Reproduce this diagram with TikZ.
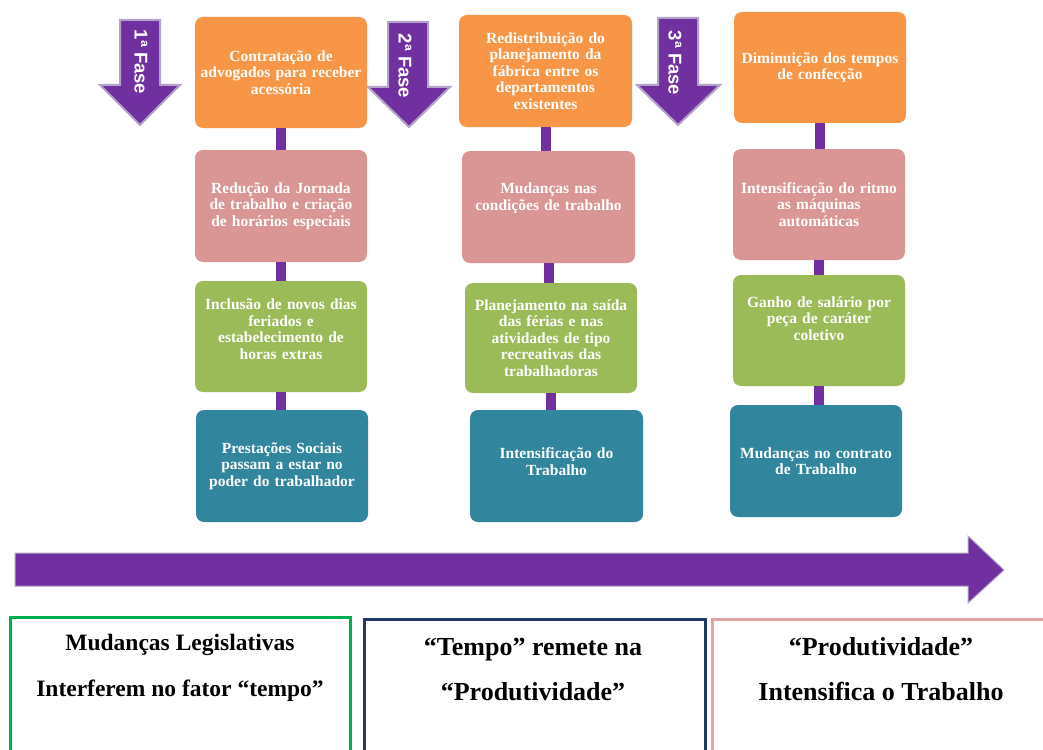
\documentclass[tikz,border=0pt]{standalone}
\usepackage{fontspec}
\setmainfont{Liberation Serif}
\newfontfamily\phasefont{Liberation Sans}
\definecolor{borange}{HTML}{F79646}
\definecolor{bpink}{HTML}{D99694}
\definecolor{bgreen}{HTML}{9BBB59}
\definecolor{bteal}{HTML}{31859C}
\definecolor{vpurple}{HTML}{7030A0}
\definecolor{lav}{HTML}{B3A2C7}
\definecolor{frgreen}{HTML}{00B050}
\definecolor{frnavy}{HTML}{1F3864}
\definecolor{frpink}{HTML}{E2A3A3}
\begin{document}
\begin{tikzpicture}[x=1pt,y=-1pt,
  box/.style={rounded corners=8pt, minimum width=172pt, minimum height=111pt,
    text width=170pt, align=center, inner sep=0pt, text=white,
    font=\bfseries\fontsize{15.5}{16.5}\selectfont},
  obox/.style={box, fill=borange},
  pbox/.style={box, fill=bpink},
  gbox/.style={box, fill=bgreen},
  tbox/.style={box, fill=bteal},
  conn/.style={line width=10pt, draw=vpurple},
  phasearrow/.style={fill=vpurple, draw=lav, line width=2pt, line join=miter},
  phasetext/.style={rotate=-90, text=white, font=\phasefont\bfseries\fontsize{18.5}{18.5}\selectfont},
  bottomtext/.style={anchor=base, font=\bfseries\fontsize{26}{28}\selectfont},
  frame/.style={line width=3pt}
]
\clip (0,0) rectangle (1043,749);
\fill[white] (0,0) rectangle (1043,749);

% phase arrows
\fill[phasearrow] (120,20) -- (160,20) -- (160,85) -- (180,85) -- (140,125) -- (100,85) -- (120,85) -- cycle;
\fill[phasearrow] (388,22) -- (428,22) -- (428,87) -- (450,87) -- (409,127) -- (368,87) -- (388,87) -- cycle;
\fill[phasearrow] (658,18) -- (698,18) -- (698,85) -- (720,85) -- (678,125) -- (637,85) -- (658,85) -- cycle;
\node[phasetext] (f1) at (141,62) {1ª Fase};
\node[phasetext] (f2) at (405,66) {2ª Fase};
\node[phasetext] (f3) at (675,63) {3ª Fase};

% column 1
\node[obox] (c1a) at (281,72.5) {Contratação de\\advogados para receber\\acessória};
\node[pbox, minimum height=112pt] (c1b) at (281,206) {Redução da Jornada\\de trabalho e criação\\de horários especiais};
\node[gbox] (c1c) at (281,336.5) {Inclusão de novos dias\\feriados e\\estabelecimento de\\horas extras\\[-2pt]\mbox{}};
\node[tbox, minimum height=112pt] (c1d) at (282,466) {Prestações Sociais\\passam a estar no\\poder do trabalhador};

% column 2
\node[obox, minimum width=173pt, minimum height=112pt] (c2a) at (545.5,71) {Redistribuição do\\planejamento da\\fábrica entre os\\departamentos\\existentes};
\node[pbox, minimum width=173pt, minimum height=112pt] (c2b) at (548.5,207) {Mudanças nas\\condições de trabalho\\[4pt]\mbox{}};
\node[gbox, minimum height=110pt] (c2c) at (551,338) {Planejamento na saída\\das férias e nas\\atividades de tipo\\recreativas das\\trabalhadoras};
\node[tbox, minimum width=173pt, minimum height=112pt] (c2d) at (556.5,466) {Intensificação do\\Trabalho\\[-8pt]\mbox{}};

% column 3
\node[obox] (c3a) at (820,67.5) {Diminuição dos tempos\\de confecção};
\node[pbox] (c3b) at (819,204.5) {Intensificação do ritmo\\as máquinas\\automáticas};
\node[gbox] (c3c) at (819,330.5) {Ganho de salário por\\peça de caráter\\coletivo\\[8pt]\mbox{}};
\node[tbox, minimum height=112pt] (c3d) at (816,461) {Mudanças no contrato\\de Trabalho};

% connectors
\draw[conn] (c1a.south) -- (c1a.south |- c1b.north);
\draw[conn] (c1b.south) -- (c1b.south |- c1c.north);
\draw[conn] (c1c.south) -- (c1c.south |- c1d.north);
\draw[conn] (c2a.south) -- (c2a.south |- c2b.north);
\draw[conn] (c2b.south) -- (c2b.south |- c2c.north);
\draw[conn] (c2c.south) -- (c2c.south |- c2d.north);
\draw[conn] (c3a.south) -- (c3a.south |- c3b.north);
\draw[conn] (c3b.south) -- (c3b.south |- c3c.north);
\draw[conn] (c3c.south) -- (c3c.south |- c3d.north);

% timeline arrow
\fill[fill=vpurple, draw=lav, line width=1pt] (15,553) -- (968,553) -- (968,536) -- (1004,570) -- (968,603) -- (968,586) -- (15,586) -- cycle;

% bottom frames
\draw[frame, draw=frgreen] (10,760) -- (10,617) -- (350,617) -- (350,760);
\draw[frame, draw=frnavy] (364,760) -- (364,619) -- (705,619) -- (705,760);
\draw[frame, draw=frpink] (712,760) -- (712,619) -- (1050,619);

\node[bottomtext, font=\bfseries\fontsize{23.5}{26}\selectfont] (l1) at (180,650) {Mudanças Legislativas};
\node[bottomtext, font=\bfseries\fontsize{23.5}{26}\selectfont] (l2) at (180,696) {Interferem no fator “tempo”};
\node[bottomtext] (m1) at (533,655) {“Tempo” remete na};
\node[bottomtext] (m2) at (533,700) {“Produtividade”};
\node[bottomtext] (r1) at (881,655) {“Produtividade”};
\node[bottomtext] (r2) at (881,700) {Intensifica o Trabalho};
\end{tikzpicture}
\end{document}
